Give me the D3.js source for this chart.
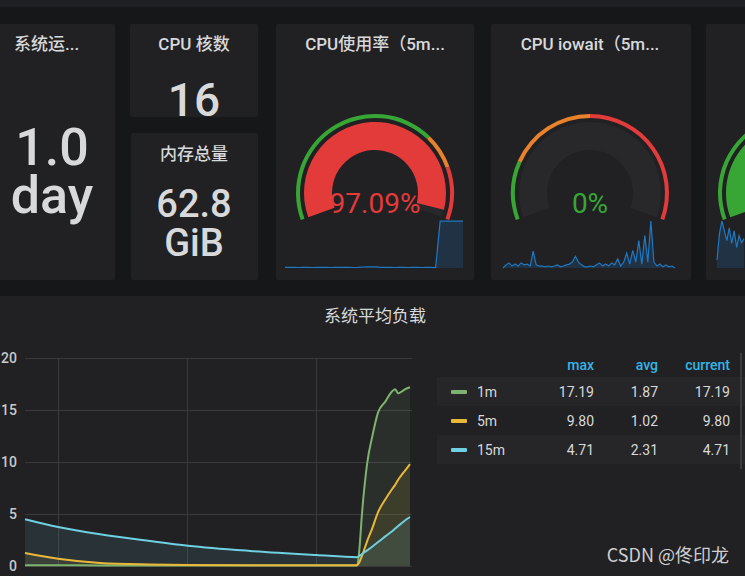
<!DOCTYPE html>
<html>
<head>
<meta charset="utf-8">
<script src="https://cdn.jsdelivr.net/npm/d3@7"></script>
<style>
  body { margin: 0; background: #161719; overflow: hidden; }
  svg { display: block; font-family: Roboto, "Noto Sans CJK SC", sans-serif; }
</style>
</head>
<body>
<svg id="dash" width="745" height="576"></svg>
<script>
// stat panels
const uptimeLines = ['1.0', 'day'];
const cpuCores = '16';
const memTotalLines = ['62.8', 'GiB'];

// gauges
const gaugeTitles = ['CPU使用率（5m...', 'CPU iowait（5m...', ''];
const gaugeValues = [97.09, 0, 35];
const gaugeLabels = ['97.09%', '0%', ''];
const gaugeThresholds = [[70, 82], [20, 50], [80, 90]];

// sparklines
const cpuUsage = [1.2, 1.1, 1.3, 1.0, 1.2, 1.1, 1.0, 1.2, 1.3, 1.1, 1.0, 1.2, 1.1, 1.3, 1.2, 1.0, 1.1,
  2.1, 2.6, 2.4, 2.2, 1.4, 1.1, 1.2, 1.0, 1.1, 1.2, 1.0, 1.1, 1.2, 1.0, 1.1, 1.2, 1.0,
  96.8, 97.1, 97.0, 97.2, 97.0, 97.09];
const iowait = [0.000, 0.008, 0.013, 0.005, 0.010, 0.005, 0.013, 0.008, 0.010, 0.005, 0.043, 0.008,
  0.005, 0.005, 0.003, 0.005, 0.003, 0.005, 0.008, 0.003, 0.005, 0.008, 0.010, 0.015, 0.030, 0.015,
  0.008, 0.003, 0.003, 0.005, 0.003, 0.008, 0.013, 0.005, 0.010, 0.005, 0.013, 0.008, 0.023, 0.005,
  0.015, 0.038, 0.010, 0.045, 0.015, 0.070, 0.010, 0.083, 0.015, 0.120, 0.015, 0.005, 0.010, 0.003,
  0.008, 0.003, 0.005, 0.000];
const memSpark = [5.2, 22.4, 30.7, 24.3, 17.9, 26.2, 16.0, 24.3, 13.4, 21.1, 16.6, 19.2];

// load average graph
const loadTimes = ['14:47:26', '14:50:00', '14:53:15', '14:57:07', '15:00:04', '15:04:53', '15:10:00',
  '15:13:10', '15:13:19', '15:13:33', '15:13:57', '15:14:20', '15:14:48', '15:15:21', '15:15:53',
  '15:16:07', '15:16:21', '15:16:39', '15:16:54', '15:17:16'];
const load1m = [0.08, 0.07, 0.06, 0.05, 0.05, 0.05, 0.05, 0.05, 1.2, 5.1, 9.9, 12.4, 14.8, 15.8, 16.8,
  17.0, 16.6, 16.8, 17.0, 17.19];
const load5m = [1.25, 0.7, 0.3, 0.15, 0.1, 0.08, 0.07, 0.07, 0.3, 1.0, 2.4, 3.6, 5.2, 6.4, 7.4,
  7.8, 8.3, 8.8, 9.2, 9.8];
const load15m = [4.5, 3.75, 3.05, 2.4, 1.95, 1.45, 1.06, 0.85, 0.95, 1.15, 1.5, 1.85, 2.3, 2.85, 3.35,
  3.6, 3.85, 4.15, 4.4, 4.71];
const yTicks = [0, 5, 10, 15, 20];

const legendNames = ['1m', '5m', '15m'];
const legendHeaders = ['max', 'avg', 'current'];
const legendMax = ['17.19', '9.80', '4.71'];
const legendAvg = ['1.87', '1.02', '2.31'];
const legendCurrent = ['17.19', '9.80', '4.71'];

const TEXT = '#d8d9da';
const PANEL = '#212124';
const GREEN = '#37a635', ORANGE = '#e8822d', RED = '#e33a3a';
const seriesColors = ['#7eb26d', '#eab839', '#6ed0e0'];

const svg = d3.select('#dash');

svg.append('rect').attr('width', 745).attr('height', 7).attr('fill', '#1f2023');

const panels = [
  [-10, 24, 125, 256],
  [130, 24, 128, 93],
  [131, 133, 127, 147],
  [276, 24, 198, 256],
  [491, 24, 200, 256],
  [706, 24, 200, 256],
  [-10, 296, 765, 290]
];
svg.append('g').selectAll('rect')
  .data(panels)
  .join('rect')
    .attr('x', d => d[0]).attr('y', d => d[1])
    .attr('width', d => d[2]).attr('height', d => d[3])
    .attr('rx', 2)
    .attr('fill', PANEL);

function text(x, y, str, size, opts = {}) {
  return svg.append('text')
    .attr('x', x).attr('y', y)
    .attr('font-size', size)
    .attr('font-weight', opts.weight || 400)
    .attr('text-anchor', opts.anchor || 'middle')
    .attr('fill', opts.fill || TEXT)
    .text(str);
}

// stat panels
text(14, 50, '系统运...', 17, { anchor: 'start', weight: 500 });
uptimeLines.forEach((s, i) => text(52, 165 + i * 48, s, 52, { weight: 500 }));
text(194, 50, 'CPU 核数', 17, { weight: 500 });
text(194, 116, cpuCores, 46, { weight: 500 });
text(194, 160, '内存总量', 17, { weight: 500 });
memTotalLines.forEach((s, i) => text(194, 217 + i * 39, s, 38, { weight: 500 }));

// gauges
const gaugeCenters = [[375, 193], [590, 193], [797, 193]];
const angle = d3.scaleLinear().domain([0, 100]).range([-110 * Math.PI / 180, 110 * Math.PI / 180]);

gaugeValues.forEach((v, i) => {
  const [cx, cy] = gaugeCenters[i];
  const [t1, t2] = gaugeThresholds[i];
  const g = svg.append('g').attr('transform', `translate(${cx},${cy})`);
  const ring = d3.arc().innerRadius(75).outerRadius(79);
  const band = d3.arc().innerRadius(43).outerRadius(71);
  [[0, t1, GREEN], [t1, t2, ORANGE], [t2, 100, RED]].forEach(([a, b, c]) => {
    g.append('path')
      .attr('d', ring({ startAngle: angle(a), endAngle: angle(b) }))
      .attr('fill', c);
  });
  g.append('path')
    .attr('d', band({ startAngle: angle(0), endAngle: angle(100) }))
    .attr('fill', '#28282b');
  const color = v < t1 ? GREEN : v < t2 ? ORANGE : RED;
  if (v > 0) {
    g.append('path')
      .attr('d', band({ startAngle: angle(0), endAngle: angle(v) }))
      .attr('fill', color);
  }
  if (gaugeTitles[i]) text(cx, 50, gaugeTitles[i], 17, { weight: 500 });
  if (gaugeLabels[i]) text(cx, 213, gaugeLabels[i], 28, { fill: color });
});

// sparklines
function sparkline(values, x0, x1) {
  const x = d3.scaleLinear().domain([0, values.length - 1]).range([x0, x1]);
  const y = d3.scaleLinear().domain([0, d3.max(values)]).range([268, 221]);
  svg.append('path')
    .datum(values)
    .attr('fill', 'rgba(31,120,193,0.2)')
    .attr('d', d3.area().x((d, i) => x(i)).y0(268).y1(d => y(d)));
  svg.append('path')
    .datum(values)
    .attr('fill', 'none')
    .attr('stroke', '#1f78c1')
    .attr('stroke-width', 1.2)
    .attr('d', d3.line().x((d, i) => x(i)).y(d => y(d)));
}
sparkline(cpuUsage, 285, 463);
sparkline(iowait, 503, 675);
sparkline(memSpark, 717, 744);

// load average graph
text(375, 322, '系统平均负载', 17);

const parse = d3.timeParse('%H:%M:%S');
const times = loadTimes.map(parse);
const x = d3.scaleTime().domain(d3.extent(times)).range([25, 410]);
const y = d3.scaleLinear().domain([0, 20]).range([566, 358]);

const grid = svg.append('g').attr('stroke', '#3a3a3d').attr('stroke-width', 1);
grid.selectAll('.h')
  .data(yTicks)
  .join('line')
    .attr('x1', 25).attr('x2', 412)
    .attr('y1', d => Math.round(y(d)) + 0.5).attr('y2', d => Math.round(y(d)) + 0.5);
grid.selectAll('.v')
  .data(x.ticks(d3.timeMinute.every(10)))
  .join('line')
    .attr('x1', d => Math.round(x(d)) + 0.5).attr('x2', d => Math.round(x(d)) + 0.5)
    .attr('y1', y(20)).attr('y2', y(0));

svg.append('g').selectAll('text')
  .data(yTicks)
  .join('text')
    .attr('x', 17).attr('y', d => y(d) + 5)
    .attr('text-anchor', 'end')
    .attr('font-size', 14)
    .attr('font-weight', 500)
    .attr('fill', '#c8c9ca')
    .text(d => d);

const series = [load1m, load5m, load15m];
const area = d3.area().x((d, i) => x(times[i])).y0(y(0)).y1(d => y(d)).curve(d3.curveMonotoneX);
const line = d3.line().x((d, i) => x(times[i])).y(d => y(d)).curve(d3.curveMonotoneX);

series.forEach((s, i) => {
  svg.append('path').datum(s)
    .attr('fill', seriesColors[i]).attr('fill-opacity', 0.1)
    .attr('d', area);
});
series.forEach((s, i) => {
  svg.append('path').datum(s)
    .attr('fill', 'none')
    .attr('stroke', seriesColors[i])
    .attr('stroke-width', 2)
    .attr('d', line);
});

// legend table
const colRight = [594, 658, 730];
const rowY = [392, 421, 450];
legendHeaders.forEach((h, j) => text(colRight[j], 370, h, 14, { anchor: 'end', weight: 500, fill: '#33b5e5' }));
rowY.forEach((ry, i) => {
  if (i !== 1) {
    svg.append('rect').attr('x', 437).attr('y', ry - 15).attr('width', 310).attr('height', 29)
      .attr('fill', '#262629');
  }
  svg.append('rect').attr('x', 451).attr('y', ry - 2).attr('width', 16).attr('height', 4)
    .attr('rx', 1).attr('fill', seriesColors[i]);
  text(477, ry + 5, legendNames[i], 14, { anchor: 'start' });
  [legendMax, legendAvg, legendCurrent].forEach((col, j) => {
    text(colRight[j], ry + 5, col[i], 14, { anchor: 'end' });
  });
});
svg.append('rect').attr('x', 740).attr('y', 353).attr('width', 2).attr('height', 116).attr('fill', '#3a3a3d');

// watermark
svg.append('text')
  .attr('x', 729).attr('y', 562)
  .attr('text-anchor', 'end')
  .attr('font-size', 18)
  .attr('font-family', '"Noto Sans CJK SC", sans-serif')
  .attr('fill', '#cfcfcf')
  .text('CSDN @佟印龙');
</script>
</body>
</html>
